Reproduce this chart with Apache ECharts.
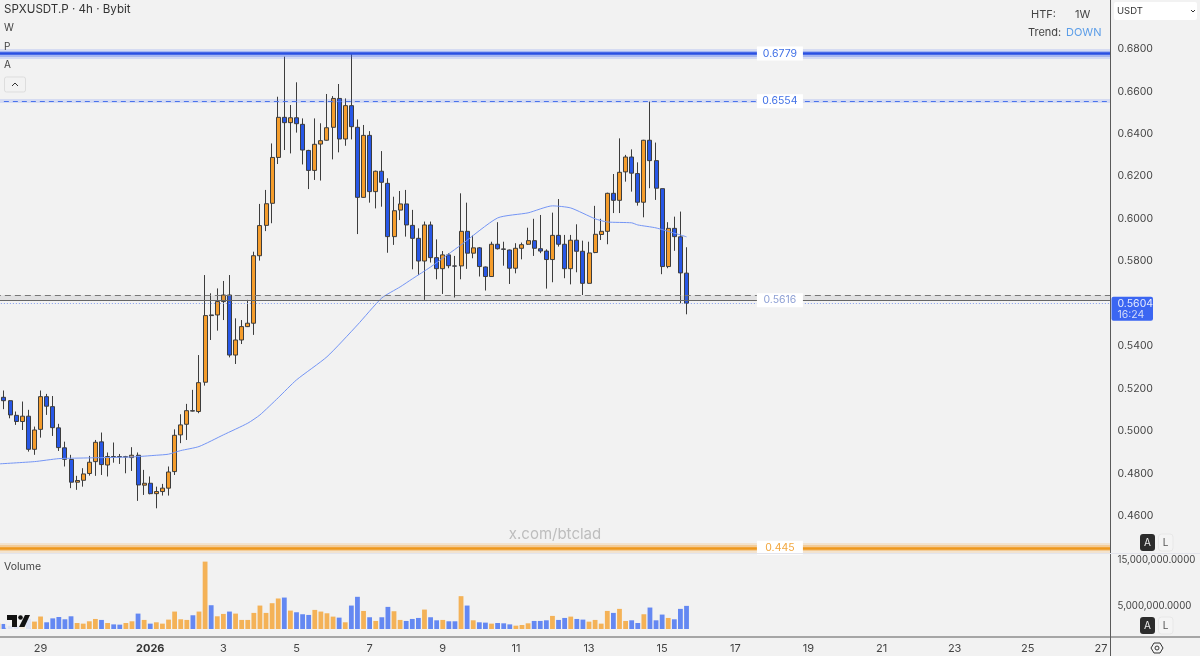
<!DOCTYPE html>
<html>
<head>
<meta charset="utf-8">
<title>SPXUSDT.P 4h</title>
<script src="https://cdn.jsdelivr.net/npm/echarts@6/dist/echarts.min.js"></script>
<style>
  html, body { margin: 0; padding: 0; background: #f2f2f2; }
  #main { width: 1200px; height: 656px; }
</style>
</head>
<body>
<div id="main"></div>
<script>
// 4h bars, first one is the half hidden bar at the left edge
const opens = [.5150,.5159,.5143,.5074,.5045,.5070,.4914,.5008,.5162,.5115,.5015,.4921,.4866,.4759,.4768,.4800,.4856,.4949,.4840,.4880,.4880,.4878,.4875,.4886,.4745,.4754,.4705,.4715,.4731,.4809,.4982,.5032,.5096,.5092,.5230,.5547,.5547,.5610,.5641,.5358,.5429,.5492,.5508,.5826,.5969,.6073,.6289,.6478,.6453,.6476,.6445,.6322,.6228,.6352,.6370,.6431,.6567,.6376,.6533,.6431,.6101,.6393,.6128,.6224,.6167,.5916,.6041,.6070,.5969,.5908,.5801,.5971,.5817,.5765,.5830,.5778,.5778,.5941,.5838,.5863,.5773,.5728,.5880,.5858,.5853,.5767,.5861,.5880,.5897,.5859,.5848,.5808,.5922,.5880,.5765,.5899,.5847,.5696,.5841,.5926,.5941,.6120,.6087,.6221,.6291,.6213,.6078,.6370,.6274,.6142,.5775,.5955,.5915,.5744];
const closes = [.5160,.5143,.5076,.5045,.5070,.4914,.5005,.5162,.5117,.5016,.4922,.4867,.4759,.4767,.4798,.4853,.4947,.4842,.4880,.4878,.4878,.4879,.4886,.4746,.4754,.4705,.4715,.4731,.4807,.4980,.5029,.5096,.5094,.5228,.5544,.5544,.5610,.5641,.5358,.5429,.5492,.5508,.5826,.5968,.6071,.6289,.6478,.6453,.6476,.6448,.6324,.6228,.6351,.6368,.6429,.6567,.6376,.6533,.6434,.6101,.6393,.6128,.6224,.6172,.5916,.6038,.6070,.5971,.5908,.5801,.5971,.5817,.5765,.5830,.5779,.5777,.5941,.5838,.5863,.5775,.5728,.5880,.5859,.5856,.5767,.5861,.5878,.5897,.5861,.5848,.5808,.5922,.5880,.5765,.5899,.5847,.5696,.5839,.5927,.5941,.6120,.6087,.6219,.6291,.6215,.6078,.6370,.6274,.6144,.5775,.5955,.5916,.5745,.5602];
const lows = [.5110,.5103,.5060,.5029,.5005,.4903,.4888,.4969,.5076,.4977,.4906,.4833,.4731,.4723,.4738,.4790,.4789,.4793,.4786,.4851,.4845,.4801,.4812,.4671,.4699,.4702,.4636,.4696,.4696,.4793,.4943,.4958,.5092,.5084,.5214,.5429,.5473,.5523,.5347,.5316,.5410,.5490,.5453,.5803,.5942,.5979,.6258,.6324,.6308,.6406,.6256,.6140,.6183,.6180,.6368,.6280,.6313,.6344,.6374,.5928,.6099,.6076,.6049,.6057,.5840,.5877,.5994,.5916,.5762,.5735,.5618,.5794,.5715,.5646,.5767,.5629,.5715,.5764,.5814,.5728,.5662,.5726,.5855,.5779,.5693,.5743,.5809,.5877,.5825,.5838,.5671,.5701,.5869,.5720,.5691,.5748,.5641,.5694,.5838,.5900,.5880,.6027,.6027,.6175,.6128,.6062,.6007,.6144,.6089,.5739,.5767,.5849,.5602,.5550];
const highs = [.5190,.5191,.5145,.5092,.5139,.5100,.5021,.5191,.5175,.5165,.5034,.4950,.4888,.4789,.4825,.4883,.4958,.4993,.4899,.4946,.4892,.4883,.4924,.4899,.4817,.4786,.4738,.4751,.4833,.5008,.5079,.5128,.5194,.5358,.5735,.5649,.5672,.5707,.5735,.5531,.5523,.5618,.5845,.6070,.6136,.6355,.6575,.6764,.6536,.6643,.6473,.6325,.6473,.6450,.6588,.6578,.6635,.6567,.6779,.6468,.6442,.6413,.6227,.6319,.6191,.6104,.6131,.6136,.6042,.5955,.5987,.5987,.5903,.5848,.5838,.5825,.6120,.6076,.5921,.5867,.5775,.5892,.5984,.5892,.5855,.5885,.5888,.5958,.6000,.6018,.5856,.6029,.6093,.5924,.5924,.5974,.5897,.5892,.6061,.6000,.6123,.6211,.6379,.6301,.6327,.6266,.6372,.6552,.6359,.6142,.5984,.6010,.6034,.5866];

// volume, in millions
const volumes = [1.2,1.09,.7,.7,.5,2.2,1.6,2.7,1.45,2.3,2.6,2.1,2.75,1.3,1.16,1.67,2.17,1.96,1.3,1.0,.94,1.3,1.67,3.33,1.96,1.16,1.45,1.16,2.03,3.77,2.1,1.96,2.97,3.77,14.57,5.14,2.75,3.26,3.77,3.33,1.96,1.96,3.48,5.07,3.48,5.58,6.6,6.8,3.98,3.62,3.19,3.04,4.13,3.77,3.4,2.68,2.46,1.45,5.07,6.96,3.9,2.54,1.74,2.54,4.78,3.84,1.96,1.74,2.17,2.39,4.2,2.54,1.88,1.96,1.67,1.67,7.1,5.07,1.88,1.45,1.38,1.16,1.3,1.23,1.0,.72,.87,1.23,1.74,1.74,1.88,2.83,1.96,2.39,2.68,2.17,2.03,1.59,1.96,1.16,3.91,3.48,4.35,1.74,1.88,1.3,3.19,4.64,1.88,3.12,2.39,2.1,4.35,5.0];

// moving average read at these bar indexes
const maIndex = [0,6,10,14,22,26,28,30,33,37,41,43,46,49,54,59,63,66,68,71,76,82,87,91,94,98,100,104,105,108,113];
const maValues = [.4845,.4856,.4870,.4873,.4878,.4886,.4891,.4908,.4927,.4982,.5037,.5076,.5157,.5241,.5350,.5500,.5627,.5679,.5717,.5773,.5877,.6004,.6028,.6061,.6051,.6000,.5985,.5981,.5971,.5957,.5915];

// horizontal levels
const topLevel = 0.6779;
const upperLevel = 0.6554;
const midLevel = 0.5616;
const midUpperEdge = 0.5641;
const bottomLevel = 0.445;
const lastPrice = 0.5604;
const lastCountdown = '16:24';
const levelLabelBar = 128;

// x axis: 4h categories from the hidden bar on, 183 slots in the visible range
const startTime = Date.UTC(2025, 11, 27, 20);
const categories = [];
for (let i = 0; i < 183; i++) {
  categories.push(new Date(startTime + i * 4 * 3600 * 1000).toISOString().slice(0, 13));
}
const tickLabels = {
  '2025-12-29T00': '29', '2026-01-01T00': '{b|2026}', '2026-01-03T00': '3', '2026-01-05T00': '5',
  '2026-01-07T00': '7', '2026-01-09T00': '9', '2026-01-11T00': '11', '2026-01-13T00': '13',
  '2026-01-15T00': '15', '2026-01-17T00': '17', '2026-01-19T00': '19', '2026-01-21T00': '21',
  '2026-01-23T00': '23', '2026-01-25T00': '25', '2026-01-27T00': '27'
};
const priceTicks = ['0.6800','0.6600','0.6400','0.6200','0.6000','0.5800','0.5400','0.5200','0.5000','0.4800','0.4600'];
const volumeTicks = [5, 15];

const FONT = 'Inter, Roboto, sans-serif';
const UP = '#f59d2c';
const DOWN = '#2757e6';
const UP_VOL = '#f4b257';
const DOWN_VOL = '#6488f2';
const TEXT = '#444';
const LEFT = -5.15;
const WIDTH = 1115.2;

const candleData = opens.map((o, i) => [o, closes[i], lows[i], highs[i]]);
const volumeData = volumes.map((v, i) => ({
  value: v,
  itemStyle: { color: closes[i] >= opens[i] ? UP_VOL : DOWN_VOL }
}));
const maData = maIndex.map((idx, i) => [idx, maValues[i]]);

function hline(value, color, width, type) {
  return {
    yAxis: value,
    lineStyle: { color: color, width: width, type: type || 'solid', opacity: 1 }
  };
}
function levelTag(value, text, color) {
  return {
    coord: [levelLabelBar, value],
    symbol: 'rect',
    symbolSize: [46, 14],
    symbolOffset: [2, 0],
    itemStyle: { color: '#fff' },
    label: { show: true, formatter: text, color: color, fontSize: 10.5, fontFamily: FONT, position: 'inside' }
  };
}

const myChart = echarts.init(document.getElementById('main'));

const option = {
  animation: false,
  backgroundColor: '#f2f2f2',
  textStyle: { fontFamily: FONT },
  grid: [
    { left: LEFT, top: 0, width: WIDTH, height: 558.4, outerBoundsMode: 'none' },
    { left: LEFT, top: 555, width: WIDTH, height: 74, outerBoundsMode: 'none' }
  ],
  xAxis: [
    {
      type: 'category', gridIndex: 0, data: categories,
      axisLine: { show: false }, axisTick: { show: false }, axisLabel: { show: false }, splitLine: { show: false }
    },
    {
      type: 'category', gridIndex: 1, data: categories,
      axisLine: { show: false }, axisTick: { show: false }, splitLine: { show: false },
      axisLabel: {
        interval: (idx, name) => tickLabels[name] !== undefined,
        formatter: name => tickLabels[name] || '',
        color: TEXT, fontSize: 11, fontFamily: FONT, margin: 14,
        rich: { b: { fontWeight: 'bold', fontSize: 11, color: '#333', fontFamily: FONT } }
      }
    }
  ],
  yAxis: [
    {
      type: 'value', gridIndex: 0, position: 'right',
      min: 0.44, max: 0.70308, interval: 0.02,
      axisLine: { show: false }, axisTick: { show: false }, splitLine: { show: false },
      axisLabel: {
        showMinLabel: false, showMaxLabel: false,
        margin: 7.5, color: TEXT, fontSize: 10.5, fontFamily: FONT,
        formatter: v => priceTicks.includes(v.toFixed(4)) ? v.toFixed(4) : ''
      }
    },
    {
      type: 'value', gridIndex: 1, position: 'right',
      min: 0, max: 16, interval: 5,
      axisLine: { show: false }, axisTick: { show: false }, splitLine: { show: false },
      axisLabel: {
        showMaxLabel: false,
        margin: 7.5, color: TEXT, fontSize: 9.7, fontFamily: FONT,
        formatter: v => volumeTicks.includes(v) ? (v * 1e6).toLocaleString('en-US') + '.0000' : ''
      }
    }
  ],
  series: [
    {
      // levels sit under the candles
      name: 'levels', type: 'line', xAxisIndex: 0, yAxisIndex: 0, data: [], z: 1, silent: true,
      markLine: {
        silent: true, symbol: ['none', 'none'], label: { show: false }, animation: false, precision: 5,
        data: [
          hline(topLevel, 'rgba(60,100,240,0.16)', 10),
          hline(topLevel, 'rgba(60,100,240,0.3)', 6),
          hline(topLevel, '#2a50e2', 2.5),
          hline(upperLevel, 'rgba(60,100,240,0.16)', 4),
          hline(upperLevel, '#4a73ec', 1, [5, 4]),
          hline((midLevel + midUpperEdge) / 2, 'rgba(120,120,130,0.14)', 5.5),
          hline(midUpperEdge, '#777', 1, [6, 4]),
          hline(midLevel, '#666', 1.2),
          hline(lastPrice, '#7f9bf0', 1, [1, 2]),
          hline(bottomLevel, 'rgba(245,160,50,0.18)', 10),
          hline(bottomLevel, 'rgba(245,160,50,0.35)', 6),
          hline(bottomLevel, '#ef981c', 2.5)
        ]
      },
      markPoint: {
        silent: true, animation: false,
        data: [
          levelTag(topLevel, '0.6779', '#3f6fe6'),
          levelTag(upperLevel, '0.6554', '#3f6fe6'),
          levelTag(midLevel, '0.5616', '#8d9fd4'),
          levelTag(bottomLevel, '0.445', '#f2a63c')
        ]
      }
    },
    {
      name: 'price', type: 'candlestick', xAxisIndex: 0, yAxisIndex: 0, z: 3,
      data: candleData, barWidth: 4.5,
      itemStyle: { color: UP, color0: DOWN, borderColor: '#3d3d3d', borderColor0: '#3d3d3d', borderWidth: 1 }
    },
    {
      name: 'ma', type: 'line', xAxisIndex: 0, yAxisIndex: 0, z: 4,
      data: maData, symbol: 'none', smooth: 0.2,
      lineStyle: { color: '#7495f5', width: 1 }
    },
    {
      name: 'volume', type: 'bar', xAxisIndex: 1, yAxisIndex: 1,
      data: volumeData, barWidth: 4.8
    }
  ]
};

myChart.setOption(option);

// the price tag hangs off the last price, so ask the axis where that is
const tagY = myChart.convertToPixel({ yAxisIndex: 0 }, lastPrice);

function label(x, y, text, extra) {
  return {
    type: 'text', x: x, y: y, z: 50,
    style: Object.assign({ text: text, fill: TEXT, fontSize: 11, fontFamily: FONT, verticalAlign: 'middle' }, extra || {})
  };
}
function scaleButtons(y) {
  return [
    { type: 'rect', z: 50, shape: { x: 1140, y: y, width: 15, height: 17, r: 3 }, style: { fill: '#2c2c2c' } },
    label(1147.5, y + 9, 'A', { fill: '#eee', fontSize: 10, align: 'center' }),
    { type: 'rect', z: 50, shape: { x: 1158.5, y: y, width: 14.5, height: 17, r: 3 }, style: { fill: '#f4f4f4', stroke: '#e8e8e8' } },
    label(1165.7, y + 9, 'L', { fill: '#555', fontSize: 10, align: 'center' })
  ];
}

myChart.setOption({
  graphic: [
    // pane borders
    { type: 'line', z: 40, shape: { x1: 1110.5, y1: 0, x2: 1110.5, y2: 656 }, style: { stroke: '#5a5a5a', lineWidth: 1 } },
    { type: 'line', z: 40, shape: { x1: 0, y1: 637, x2: 1200, y2: 637 }, style: { stroke: '#5a5a5a', lineWidth: 1 } },
    { type: 'line', z: 40, shape: { x1: 0, y1: 553.5, x2: 1200, y2: 553.5 }, style: { stroke: '#e3e4ec', lineWidth: 1 } },

    // top left legend
    label(4, 10, 'SPXUSDT.P · 4h · Bybit', { fontSize: 11.6, fill: '#333' }),
    label(4, 28, 'W', { fontSize: 10 }),
    label(4, 47, 'P', { fontSize: 10 }),
    label(4, 65, 'A', { fontSize: 10 }),
    { type: 'rect', z: 50, shape: { x: 4.5, y: 77, width: 21, height: 15, r: 2 }, style: { fill: '#f2f2f2', stroke: '#ddd' } },
    { type: 'polyline', z: 51, shape: { points: [[12, 86], [15, 83], [18, 86]] }, style: { stroke: '#333', lineWidth: 1, fill: 'none' } },

    // top right table
    label(1031, 15, 'HTF:'),
    label(1075, 15, '1W'),
    label(1028, 32.5, 'Trend:'),
    label(1066, 32.5, 'DOWN', { fill: '#5b9de8' }),

    // currency box on the price scale
    { type: 'rect', z: 50, shape: { x: 1114, y: 2, width: 83, height: 18, r: 2 }, style: { fill: '#fff' } },
    label(1117, 11, 'USDT', { fontSize: 9.5, fill: '#333' }),
    { type: 'polyline', z: 51, shape: { points: [[1191, 10], [1193, 12], [1195, 10]] }, style: { stroke: '#333', lineWidth: 1, fill: 'none' } },

    // last price tag
    { type: 'rect', z: 50, shape: { x: 1111.5, y: tagY - 6, width: 41.5, height: 24, r: 2 }, style: { fill: '#3b66f2' } },
    label(1117.5, tagY + 0.5, lastPrice.toFixed(4), { fill: '#e6ecfd', fontSize: 10.5 }),
    label(1117.5, tagY + 12, lastCountdown, { fill: '#d5def9', fontSize: 10.5 }),

    // watermark, volume title
    label(555, 534, 'x.com/btclad', { fill: '#bdbdbd', fontSize: 15, align: 'center' }),
    label(4, 567, 'Volume', { fontSize: 10.5 }),

    ...scaleButtons(534),
    ...scaleButtons(617),

    // settings icon
    { type: 'polygon', z: 50, shape: { points: [[1151, 648], [1154, 643], [1160, 643], [1163, 648], [1160, 653], [1154, 653]] }, style: { fill: 'none', stroke: '#333', lineWidth: 1 } },
    { type: 'circle', z: 50, shape: { cx: 1157, cy: 648, r: 2 }, style: { fill: 'none', stroke: '#333', lineWidth: 1 } },

    // logo
    { type: 'rect', z: 50, shape: { x: 5, y: 613, width: 27, height: 16, r: 2 }, style: { fill: 'rgba(242,242,242,0.85)' } },
    { type: 'polygon', z: 51, shape: { points: [[7, 615], [17, 615], [17, 627], [12, 627], [12, 620], [7, 620]] }, style: { fill: '#111' } },
    { type: 'circle', z: 51, shape: { cx: 20.5, cy: 617.5, r: 2.3 }, style: { fill: '#111' } },
    { type: 'polygon', z: 51, shape: { points: [[25, 615], [30, 615], [24.5, 627], [19, 627]] }, style: { fill: '#111' } }
  ]
});

window.addEventListener('resize', () => myChart.resize());
</script>
</body>
</html>
